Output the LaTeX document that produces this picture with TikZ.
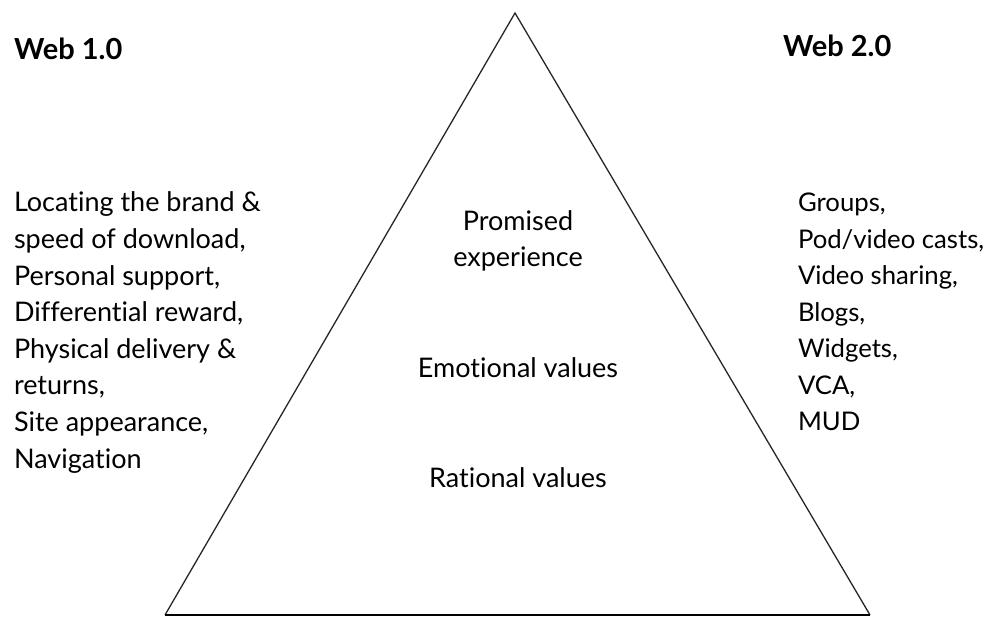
\documentclass[tikz,border=0pt]{standalone}
\usepackage{fontspec}
\setmainfont{Lato}[Ligatures=NoCommon]
\begin{document}
\begin{tikzpicture}[x=1pt,y=-1pt,
  body/.style={inner sep=0pt,outer sep=0pt,font=\fontsize{27}{36.6}\selectfont},
  list/.style={body,align=left,anchor=base west},
  level/.style={body,align=center,anchor=base},
  heading/.style={inner sep=0pt,anchor=base west,font=\fontsize{29}{30}\selectfont\bfseries},
  edge/.style={line width=1.3pt,draw=black!85,line join=miter}]
\useasboundingbox (0,0) rectangle (991,617);
% pyramid
\coordinate (apex) at (515,13);
\coordinate (bl) at (165,615);
\coordinate (br) at (870,615);
\draw[edge] (bl) -- (apex) -- (br);
\draw[line width=1.7pt,black] (bl) -- (br);
% column headings
\node[heading] (w1) at (14,60) {Web 1.0};
\node[heading] (w2) at (783,57) {Web 2.0};
% left and right lists (anchored on the baseline of their last line)
\node[list] (left) at (14,468) {Locating the brand \&\\speed of download,\\Personal support,\\Differential reward,\\Physical delivery \&\\returns,\\Site appearance,\\Navigation};
\node[list,font=\fontsize{25.7}{36.5}\selectfont] (right) at (798,431) {Groups,\\Pod/video casts,\\Video sharing,\\Blogs,\\Widgets,\\VCA,\\MUD};
% levels inside the pyramid
\node[level] (promise) at (518,267) {Promised\\experience};
\node[level] (emo) at (518,378) {Emotional values};
\node[level] (rat) at (518,488) {Rational values};
\end{tikzpicture}
\end{document}
